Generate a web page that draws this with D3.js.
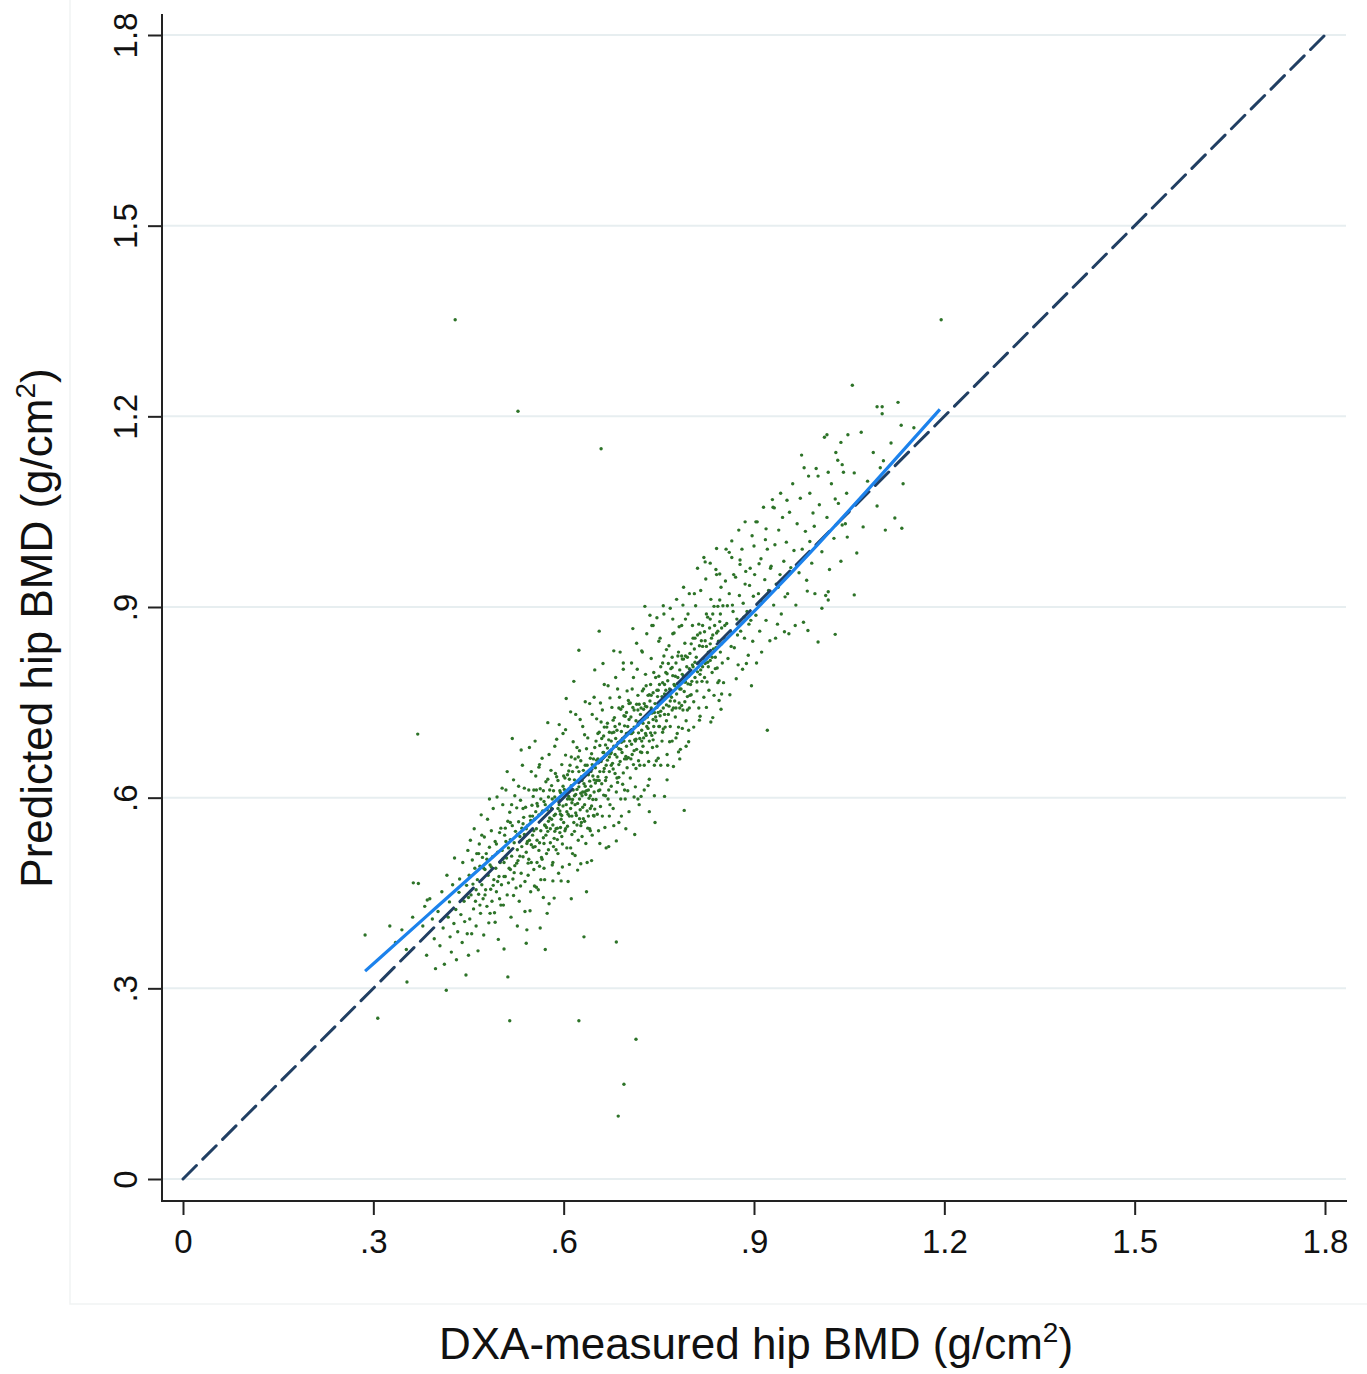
<!DOCTYPE html>
<html>
<head>
<meta charset="utf-8">
<script src="https://cdn.jsdelivr.net/npm/d3@7"></script>
<style>
  html, body { margin: 0; padding: 0; background: #ffffff; }
  svg { display: block; }
  text { font-family: "Liberation Sans", Arial, Helvetica, sans-serif; fill: #111; }
</style>
</head>
<body>
<svg id="chart" width="1367" height="1374"></svg>
<script>
// ---------------- DATA ----------------
const tickValues = [0, 0.3, 0.6, 0.9, 1.2, 1.5, 1.8];
const tickLabels = ["0", ".3", ".6", ".9", "1.2", "1.5", "1.8"];
const xTitle = "DXA-measured hip BMD (g/cm";
const yTitle = "Predicted hip BMD (g/cm";

// Identity (reference) line
const identityLine = [[0, 0], [1.8, 1.8]];

// Smoothed fit line (blue)
const fitLine = [[.287,.327],[.40,.428],[.50,.517],[.60,.606],[.70,.698],[.80,.793],[.90,.892],[1.00,.997],[1.10,1.107],[1.193,1.211]];

// Scatter points [DXA-measured, predicted]
const points = [
[.429,1.352],[.528,1.208],[.659,1.149],[1.195,1.352],[.370,.700],[.307,.253],[.515,.249],[.624,.249],[.714,.220],[.695,.149],[.686,.099],[.683,.373],[.632,.381],[.921,.706],[.790,.580],
[.287,.384],[.335,.372],[.352,.361],[.362,.412],[.371,.465],[.378,.398],[.384,.352],[.389,.441],[.393,.409],[.396,.378],[.398,.331],[.345,.392],[.381,.429],[.363,.466],[.326,.398],[.353,.310],[.385,.439],
[.402,.421],[.405,.367],[.408,.452],[.410,.395],[.412,.338],[.415,.297],[.416,.478],[.418,.412],[.420,.436],[.421,.381],[.423,.357],[.425,.463],[.427,.402],[.428,.505],[.430,.424],[.431,.345],[.433,.389],[.435,.451],[.436,.472],[.438,.416],[.440,.372],[.441,.498],[.443,.437],[.444,.405],[.446,.321],[.447,.462],[.448,.386],[.449,.517],[.450,.443],[.450,.352],
[.451,.478],[.452,.409],[.453,.533],[.454,.447],[.455,.386],[.456,.502],[.457,.464],[.458,.425],[.459,.551],[.460,.489],[.461,.437],[.462,.398],[.463,.512],[.464,.471],[.465,.359],[.466,.448],[.467,.527],[.468,.492],[.469,.418],[.470,.573],[.471,.463],[.472,.506],[.473,.441],[.474,.384],[.475,.538],[.476,.487],[.477,.455],[.478,.512],[.479,.429],[.480,.566],[.481,.478],[.482,.403],[.483,.522],[.484,.494],[.485,.456],[.486,.548],[.487,.437],[.488,.507],[.489,.583],[.490,.471],[.491,.419],[.492,.531],[.493,.489],[.494,.452],[.495,.601],[.496,.514],[.497,.377],[.498,.476],[.499,.545],[.500,.498],
[.501,.552],[.502,.463],[.503,.517],[.504,.589],[.505,.431],[.506,.498],[.507,.541],[.508,.476],[.509,.612],[.510,.505],[.511,.447],[.512,.563],[.513,.521],[.514,.489],[.515,.577],[.516,.534],[.517,.412],[.518,.508],[.519,.556],[.520,.472],[.521,.628],[.522,.529],[.523,.493],[.524,.547],[.525,.458],[.526,.584],[.527,.518],[.528,.501],[.529,.562],[.530,.437],[.531,.539],[.532,.596],[.533,.481],[.534,.523],[.535,.651],[.536,.507],[.537,.569],[.538,.542],[.539,.468],[.540,.585],[.541,.514],[.542,.392],[.543,.556],[.544,.497],[.545,.612],[.546,.533],[.547,.571],[.548,.452],[.549,.526],[.550,.588],[.506,.362],[.512,.318],[.519,.693],[.527,.398],[.533,.675],[.541,.371],[.547,.422],[.503,.615],[.523,.603],[.538,.615],[.544,.478],[.549,.641],[.509,.531],[.516,.487],[.531,.508],[.536,.559],[.542,.528],[.548,.564],
[.551,.541],[.552,.602],[.553,.487],[.554,.566],[.555,.523],[.556,.634],[.557,.551],[.558,.498],[.559,.587],[.560,.455],[.561,.573],[.562,.529],[.563,.614],[.564,.548],[.565,.506],[.566,.662],[.567,.579],[.568,.537],[.569,.594],[.570,.471],[.571,.556],[.572,.625],[.573,.512],[.574,.581],[.575,.547],[.576,.601],[.577,.433],[.578,.568],[.579,.529],[.580,.643],[.581,.583],[.582,.494],[.583,.557],[.584,.611],[.585,.536],[.586,.681],[.587,.574],[.588,.518],[.589,.596],[.590,.552],[.591,.627],[.592,.481],[.593,.589],[.594,.545],[.595,.608],[.596,.566],[.597,.652],[.598,.527],[.599,.587],[.600,.561],
[.553,.612],[.557,.459],[.561,.648],[.566,.503],[.571,.589],[.574,.418],[.578,.612],[.583,.469],[.587,.638],[.591,.512],[.595,.574],[.599,.701],[.556,.578],[.562,.492],[.568,.611],[.573,.553],[.579,.587],[.584,.523],[.589,.633],[.594,.579],[.598,.491],[.552,.522],[.558,.591],[.564,.471],[.569,.528],[.576,.563],[.581,.619],[.586,.547],[.592,.598],[.597,.539],[.555,.689],[.563,.395],[.577,.668],[.585,.442],[.593,.715],[.571,.361],
[.601,.613],[.602,.548],[.603,.667],[.604,.589],[.605,.521],[.606,.636],[.607,.574],[.608,.602],[.609,.495],[.610,.651],[.611,.583],[.612,.619],[.613,.542],[.614,.597],[.615,.688],[.616,.561],[.617,.628],[.618,.509],[.619,.605],[.620,.572],[.621,.648],[.622,.591],[.623,.533],[.624,.617],[.625,.674],[.626,.581],[.627,.556],[.628,.633],[.629,.603],[.630,.712],[.631,.567],[.632,.622],[.633,.589],[.634,.651],[.635,.528],[.636,.611],[.637,.579],[.638,.694],[.639,.636],[.640,.599],[.641,.551],[.642,.662],[.643,.618],[.644,.587],[.645,.731],[.646,.634],[.647,.572],[.648,.609],[.649,.679],[.650,.623],
[.603,.707],[.607,.468],[.611,.735],[.614,.512],[.618,.661],[.622,.486],[.626,.723],[.629,.539],[.633,.699],[.637,.498],[.641,.748],[.645,.541],[.649,.582],[.605,.578],[.609,.629],[.613,.592],[.617,.547],[.621,.613],[.625,.598],[.628,.561],[.631,.643],[.635,.605],[.639,.571],[.643,.641],[.647,.661],[.602,.631],[.606,.555],[.610,.598],[.614,.641],[.619,.576],[.623,.664],[.627,.607],[.630,.585],[.634,.618],[.638,.552],[.642,.603],[.646,.597],[.650,.647],[.616,.783],[.624,.832],[.636,.452],[.644,.501],[.612,.441],[.648,.758],
[.651,.689],[.652,.627],[.653,.574],[.654,.661],[.655,.611],[.656,.703],[.657,.641],[.658,.586],[.659,.657],[.660,.622],[.661,.738],[.662,.671],[.663,.604],[.664,.646],[.665,.553],[.666,.683],[.667,.632],[.668,.711],[.669,.659],[.670,.598],[.671,.691],[.672,.641],[.673,.757],[.674,.669],[.675,.618],[.676,.702],[.677,.654],[.678,.583],[.679,.681],[.680,.726],[.681,.638],[.682,.693],[.683,.609],[.684,.664],[.685,.771],[.686,.687],[.687,.632],[.688,.716],[.689,.657],[.690,.598],[.691,.704],[.692,.671],[.693,.743],[.694,.639],[.695,.689],[.696,.612],[.697,.728],[.698,.665],[.699,.701],[.700,.647],
[.652,.724],[.655,.548],[.658,.749],[.661,.571],[.664,.711],[.667,.521],[.670,.776],[.673,.589],[.676,.742],[.679,.556],[.682,.789],[.685,.624],[.688,.758],[.691,.571],[.694,.812],[.697,.598],[.700,.768],[.654,.633],[.657,.682],[.660,.661],[.663,.697],[.666,.627],[.669,.678],[.672,.703],[.675,.651],[.678,.722],[.681,.668],[.684,.706],[.687,.677],[.690,.739],[.693,.693],[.696,.661],[.699,.734],[.662,.811],[.671,.523],[.683,.532],[.689,.829],[.698,.551],[.656,.862],
[.701,.712],[.702,.663],[.703,.748],[.704,.689],[.705,.631],[.706,.727],[.707,.684],[.708,.771],[.709,.703],[.710,.652],[.711,.738],[.712,.691],[.713,.617],[.714,.721],[.715,.676],[.716,.802],[.717,.714],[.718,.658],[.719,.747],[.720,.693],[.721,.731],[.722,.602],[.723,.706],[.724,.768],[.725,.681],[.726,.739],[.727,.651],[.728,.724],[.729,.794],[.730,.698],[.731,.743],[.732,.671],[.733,.761],[.734,.718],[.735,.629],[.736,.752],[.737,.702],[.738,.819],[.739,.733],[.740,.679],[.741,.765],[.742,.712],[.743,.651],[.744,.748],[.745,.789],[.746,.721],[.747,.681],[.748,.759],[.749,.734],[.750,.846],
[.703,.578],[.707,.812],[.711,.601],[.715,.843],[.719,.589],[.723,.831],[.727,.612],[.731,.858],[.735,.578],[.739,.871],[.743,.603],[.747,.883],[.705,.701],[.709,.742],[.713,.689],[.717,.761],[.721,.672],[.725,.717],[.729,.744],[.733,.709],[.737,.778],[.741,.691],[.745,.727],[.749,.769],[.702,.753],[.706,.661],[.710,.789],[.714,.646],[.718,.702],[.722,.741],[.726,.694],[.730,.776],[.734,.657],[.738,.741],[.742,.797],[.746,.658],[.750,.712],[.712,.542],[.728,.901],[.744,.561],[.736,.887],
[.751,.778],[.752,.729],[.753,.806],[.754,.752],[.755,.689],[.756,.781],[.757,.741],[.758,.823],[.759,.763],[.760,.711],[.761,.797],[.762,.746],[.763,.668],[.764,.784],[.765,.731],[.766,.839],[.767,.771],[.768,.712],[.769,.803],[.770,.758],[.771,.689],[.772,.792],[.773,.741],[.774,.859],[.775,.776],[.776,.727],[.777,.812],[.778,.763],[.779,.701],[.780,.789],[.781,.829],[.782,.749],[.783,.801],[.784,.676],[.785,.771],[.786,.871],[.787,.794],[.788,.738],[.789,.818],[.790,.767],[.791,.843],[.792,.782],[.793,.721],[.794,.806],[.795,.759],[.796,.889],[.797,.791],[.798,.741],[.799,.827],[.800,.778],
[.753,.651],[.758,.889],[.763,.628],[.768,.898],[.773,.649],[.778,.912],[.783,.661],[.788,.903],[.793,.681],[.798,.921],[.756,.812],[.761,.769],[.766,.744],[.771,.821],[.776,.791],[.781,.711],[.786,.823],[.791,.751],[.796,.779],[.752,.851],[.757,.708],[.762,.833],[.767,.688],[.772,.858],[.777,.694],[.782,.869],[.787,.709],[.792,.881],[.797,.706],[.759,.602],
[.801,.842],[.802,.783],[.803,.871],[.804,.806],[.805,.751],[.806,.834],[.807,.789],[.808,.902],[.809,.821],[.810,.768],[.811,.856],[.812,.812],[.813,.741],[.814,.839],[.815,.794],[.816,.926],[.817,.847],[.818,.783],[.819,.871],[.820,.819],[.821,.758],[.822,.861],[.823,.811],[.824,.944],[.825,.838],[.826,.782],[.827,.884],[.828,.829],[.829,.769],[.830,.867],[.831,.816],[.832,.912],[.833,.851],[.834,.797],[.835,.889],[.836,.834],[.837,.761],[.838,.871],[.839,.821],[.840,.959],[.841,.859],[.842,.804],[.843,.901],[.844,.846],[.845,.784],[.846,.877],[.847,.829],[.848,.931],[.849,.867],[.850,.812],
[.805,.711],[.815,.728],[.825,.742],[.835,.726],[.845,.753],[.811,.961],[.821,.978],[.831,.969],[.841,.992],[.849,.763],
[.851,.902],[.853,.851],[.855,.941],[.857,.874],[.859,.819],[.861,.921],[.863,.862],[.865,.978],[.867,.893],[.869,.836],[.871,.947],[.873,.881],[.875,.809],[.877,.918],[.879,.862],[.881,.991],[.883,.906],[.885,.851],[.887,.956],[.889,.893],[.891,.824],[.893,.934],[.895,.879],[.897,1.012],[.899,.917],[.852,.781],[.856,.991],[.862,.762],[.866,.903],[.872,.787],[.876,1.021],[.882,.802],[.886,.936],[.892,.873],[.896,.776],[.858,.902],[.864,.838],[.868,.951],[.874,.856],[.878,.967],[.884,.884],[.888,.811],[.894,.961],[.898,.846],[.854,.871],
[.930,1.057],[.903,1.034],[.886,1.034],[.865,1.004],[.861,.986],[.919,1.023],[.900,.996],[.878,.974],[.846,.952],
[.901,.951],[.903,.887],[.905,1.034],[.907,.921],[.909,.862],[.911,.976],[.913,.908],[.915,1.057],[.917,.943],[.919,.879],[.921,.991],[.923,.926],[.925,.847],[.927,.964],[.929,1.069],[.931,.903],[.933,.998],[.935,.936],[.937,.873],[.939,1.021],[.941,.951],[.943,.889],[.945,1.041],[.947,.972],[.949,.916],[.904,.812],[.912,.829],[.918,1.006],[.926,.961],[.934,.851],[.942,1.079],[.948,.861],[.908,.968],[.938,.931],
[.951,1.002],[.953,.921],[.956,1.049],[.958,.962],[.961,1.094],[.963,.989],[.966,.903],[.968,1.031],[.971,.954],[.973,1.071],[.976,.991],[.978,.876],[.981,1.019],[.983,.942],[.986,1.106],[.988,1.003],[.991,.969],[.993,1.048],[.996,.921],[.998,1.118],[.955,.858],[.965,.871],[.975,1.139],[.985,.863],[.995,1.027],
[1.003,1.061],[1.007,.987],[1.011,1.167],[1.015,1.041],[1.019,.959],[1.022,1.094],[1.026,1.008],[1.029,1.143],[1.033,1.063],[1.037,.972],[1.041,1.112],[1.044,1.031],[1.048,1.171],[1.013,.918],[1.028,.857],[1.039,1.124],[1.046,1.079],
[1.015,1.171],[1.037,1.159],[1.032,1.131],[.979,1.119],[1.017,1.112],[1.001,1.106],[1.028,1.070],[.988,1.079],[.952,1.068],[.932,1.056],[1.047,1.010],[1.039,1.029],[1.007,.898],[1.017,.911],[.984,.925],[1.017,.924],[1.001,.845],
[1.055,1.249],[1.058,1.111],[1.069,1.175],[1.094,1.215],[1.102,1.215],[1.102,1.204],[1.127,1.222],[1.132,1.186],[1.152,1.182],[1.116,1.158],[1.104,1.130],[1.099,1.119],[1.135,1.094],[1.122,1.040],[1.133,1.024],[1.107,1.021],[1.094,1.059],[1.072,1.026],[1.062,.985],[1.058,.919],[1.079,1.098],[1.088,1.143],
[.462,.455],[.468,.431],[.474,.489],[.479,.503],[.484,.418],[.489,.462],[.494,.527],[.499,.441],[.504,.503],[.508,.552],[.513,.466],[.518,.589],[.522,.482],[.527,.542],[.532,.461],[.536,.583],[.541,.551],[.545,.503],[.549,.498],[.553,.548],[.557,.612],[.561,.517],[.565,.576],[.569,.489],[.572,.541],[.575,.629],[.579,.551],[.582,.598],[.585,.572],[.588,.551],[.591,.583],[.594,.611],[.597,.572],[.600,.634],[.603,.551],[.606,.598],[.609,.571],[.612,.664],[.615,.612],[.618,.589],[.621,.557],[.624,.641],[.627,.658],[.630,.609],[.633,.563],[.636,.677],[.639,.612],[.642,.583],[.645,.652],[.648,.628],[.651,.597],[.654,.701],[.657,.612],[.660,.693],[.663,.641],[.666,.603],[.669,.717],[.672,.664],[.675,.689],[.678,.645],[.681,.712],[.684,.631],[.687,.741],[.690,.676],[.693,.621],[.696,.713],[.699,.681],[.702,.702],[.705,.749],[.708,.668],[.711,.711],[.714,.692],[.717,.738],[.720,.651],[.723,.689],[.726,.771],[.729,.701],[.732,.727],[.735,.689],[.738,.761],[.741,.723],[.744,.702],[.747,.742],[.750,.791],[.753,.736],[.756,.703],[.759,.778],[.762,.721],[.765,.811],[.768,.752],[.771,.738],[.774,.778],[.777,.741],[.780,.823],[.783,.771],[.786,.745],[.789,.791],[.792,.823],[.795,.738],[.798,.803],[.801,.762],[.804,.851],[.807,.813],[.810,.782],[.813,.873],[.816,.801],[.819,.838],[.822,.789],[.825,.889],[.828,.806],[.831,.842],[.834,.821],[.837,.901],[.840,.836],[.843,.781],[.846,.911],[.849,.842],
[.466,.512],[.476,.447],[.486,.491],[.496,.468],[.506,.476],[.516,.561],[.526,.497],[.534,.552],[.543,.531],[.551,.571],[.558,.533],[.564,.598],[.570,.557],[.576,.518],[.581,.566],[.586,.601],[.590,.534],[.595,.553],[.599,.618],[.604,.607],[.608,.642],[.613,.571],[.617,.603],[.621,.679],[.625,.567],[.629,.627],[.633,.609],[.637,.651],[.641,.626],[.644,.669],[.648,.571],[.652,.659],[.656,.627],[.659,.719],[.663,.671],[.667,.651],[.671,.612],[.675,.671],[.679,.703],[.683,.681],[.687,.652],[.691,.687],[.695,.729],[.699,.661],[.703,.723],[.707,.701],[.711,.674],[.715,.747],[.719,.719],[.723,.671],[.727,.748],[.731,.712],[.735,.762],[.739,.698],[.743,.734],[.747,.769],[.751,.712],[.755,.759],[.759,.731],[.763,.795],[.767,.761],[.771,.805],[.775,.752],[.779,.779],[.783,.741],[.787,.818],[.791,.782],[.795,.821],[.799,.761],[.803,.809],[.807,.851],[.811,.798],[.815,.859],[.819,.806],[.823,.847],[.827,.813],[.831,.881],[.835,.856],[.839,.803],[.843,.862],[.847,.889],
[.471,.541],[.483,.598],[.492,.404],[.501,.431],[.511,.641],[.521,.446],[.529,.618],[.539,.421],[.546,.679],[.554,.461],[.562,.652],[.568,.443],[.575,.718],[.583,.498],[.589,.692],[.596,.469],[.604,.756],[.611,.521],[.619,.731],[.627,.496],[.634,.751],[.642,.548],[.649,.801],[.657,.528],[.664,.778],[.672,.571],[.679,.831],[.687,.561],[.694,.802],[.701,.611],[.709,.866],[.717,.598],[.724,.829],[.733,.619],[.741,.871],[.749,.662],[.757,.902],[.764,.651],[.772,.881],[.781,.672],[.789,.931],[.797,.688],[.806,.921],[.814,.722],[.823,.971],[.832,.719],[.841,.951],[.848,.739]
];

// ---------------- DRAW ----------------
const svg = d3.select("#chart");

const x = d3.scaleLinear().domain([0, 1.8]).range([183, 1325]);
const y = d3.scaleLinear().domain([0, 1.8]).range([1179, 35]);

const axisX = 162, axisY = 1201;
const tickFont = "33px";

// faint plot-region frame
svg.append("rect")
  .attr("x", 70).attr("y", -2).attr("width", 1310).attr("height", 1306)
  .attr("fill", "none").attr("stroke", "#f1f3f3").attr("stroke-width", 1.5);

// gridlines
svg.append("g").selectAll("line").data(tickValues).join("line")
  .attr("x1", axisX + 1).attr("x2", 1346)
  .attr("y1", d => y(d)).attr("y2", d => y(d))
  .attr("stroke", "#e7eef0").attr("stroke-width", 2);

// y axis
const gy = svg.append("g").attr("transform", `translate(${axisX},0)`)
  .call(d3.axisLeft(y).tickValues(tickValues).tickSize(14).tickSizeOuter(0)
    .tickFormat((d, i) => tickLabels[i]));
gy.select(".domain").remove();
gy.selectAll(".tick line").attr("stroke", "#222").attr("stroke-width", 2);
gy.selectAll(".tick text")
  .attr("x", null).attr("dy", null)
  .attr("text-anchor", "middle")
  .attr("transform", "translate(-25,0) rotate(-90)")
  .style("font-size", tickFont).style("font-family", "'Liberation Sans', Arial, sans-serif").attr("fill", "#111");

// x axis
const gx = svg.append("g").attr("transform", `translate(0,${axisY})`)
  .call(d3.axisBottom(x).tickValues(tickValues).tickSize(14).tickSizeOuter(0)
    .tickFormat((d, i) => tickLabels[i]));
gx.select(".domain").remove();
gx.selectAll(".tick line").attr("stroke", "#222").attr("stroke-width", 2);
gx.selectAll(".tick text")
  .attr("y", 52).attr("dy", null)
  .style("font-size", tickFont).style("font-family", "'Liberation Sans', Arial, sans-serif").attr("fill", "#111");

// axis lines
svg.append("line").attr("x1", axisX).attr("x2", axisX).attr("y1", 14).attr("y2", axisY + 1)
  .attr("stroke", "#222").attr("stroke-width", 2);
svg.append("line").attr("x1", axisX - 1).attr("x2", 1347).attr("y1", axisY).attr("y2", axisY)
  .attr("stroke", "#222").attr("stroke-width", 2);

// scatter
svg.append("g").selectAll("circle").data(points).join("circle")
  .attr("cx", d => x(d[0])).attr("cy", d => y(d[1])).attr("r", 1.7)
  .attr("fill", "#2d7328");

// identity dashed line
const line = d3.line().x(d => x(d[0])).y(d => y(d[1]));
svg.append("path").datum(identityLine).attr("d", line)
  .attr("fill", "none").attr("stroke", "#213f63").attr("stroke-width", 3)
  .attr("stroke-dasharray", "19,9").attr("stroke-linecap", "round");

// fit line
const smooth = d3.line().x(d => x(d[0])).y(d => y(d[1])).curve(d3.curveBasis);
svg.append("path").datum(fitLine).attr("d", smooth)
  .attr("fill", "none").attr("stroke", "#1c82ec").attr("stroke-width", 3.2);

// axis titles
const xt = svg.append("text").attr("x", 756).attr("y", 1359).attr("text-anchor", "middle")
  .style("font-size", "44px");
xt.append("tspan").text(xTitle);
xt.append("tspan").text("2").style("font-size", "28px").attr("dy", -17);
xt.append("tspan").text(")").attr("dy", 17);

const yt = svg.append("text").attr("transform", "translate(52,628) rotate(-90)").attr("text-anchor", "middle")
  .style("font-size", "44px");
yt.append("tspan").text(yTitle);
yt.append("tspan").text("2").style("font-size", "28px").attr("dy", -17);
yt.append("tspan").text(")").attr("dy", 17);
</script>
</body>
</html>
